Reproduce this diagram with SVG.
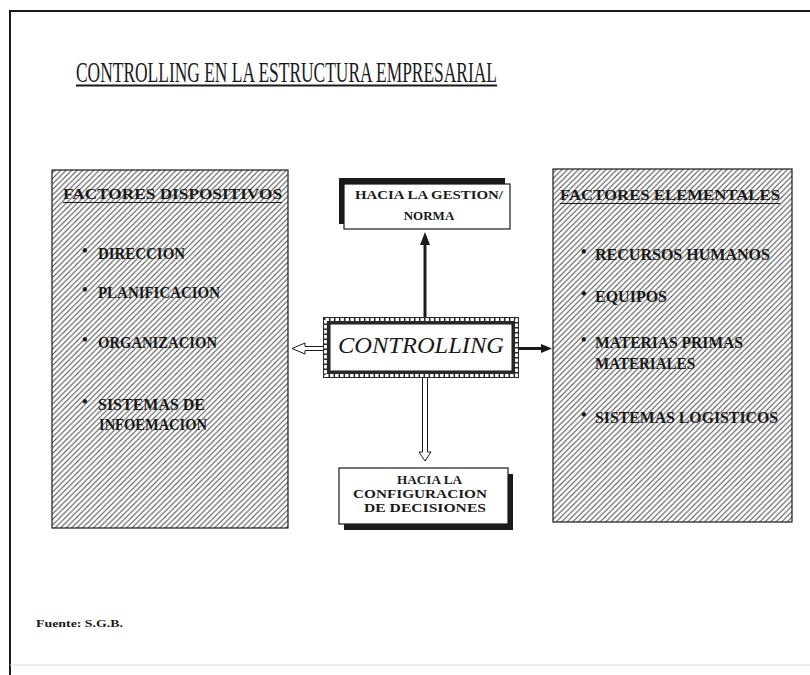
<svg xmlns="http://www.w3.org/2000/svg" width="810" height="675" viewBox="0 0 810 675">
<style>
  .serif { font-family: "Liberation Serif", "Times New Roman", serif; fill: #1a1a1a; }
  .item { font-family: "Liberation Serif", "Times New Roman", serif; font-weight: bold; font-size: 16px; fill: #1a1a1a; }
  .head { font-family: "Liberation Serif", "Times New Roman", serif; font-weight: bold; font-size: 15.5px; fill: #1a1a1a; }
  .small { font-family: "Liberation Serif", "Times New Roman", serif; font-weight: bold; fill: #1a1a1a; }
</style>
<defs>
  <pattern id="hatch" patternUnits="userSpaceOnUse" width="5.5" height="5.5">
    <path d="M-1,1 L1,-1 M0,5.5 L5.5,0 M4.5,6.5 L6.5,4.5" stroke="#4a4a4a" stroke-width="1.05" fill="none"/>
  </pattern>
</defs>
<rect width="810" height="675" fill="#ffffff"/>

<g id="frame" fill="none" stroke="#1a1a1a">
  <path d="M10,675 L10,11 L810,11" stroke-width="2"/>
  <line x1="10" y1="665" x2="810" y2="665" stroke="#dcdcdc" stroke-width="1"/>
</g>

<g id="title">
  <text class="serif" x="76" y="82" font-size="28.5" textLength="421" lengthAdjust="spacingAndGlyphs">CONTROLLING EN LA ESTRUCTURA EMPRESARIAL</text>
  <line x1="76" y1="85.5" x2="497" y2="85.5" stroke="#1a1a1a" stroke-width="2"/>
</g>

<g id="node-factores-dispositivos">
  <rect x="52" y="170" width="236" height="358" fill="url(#hatch)" stroke="#1a1a1a" stroke-width="1.2"/>
  <text class="head" x="63" y="199" textLength="219" lengthAdjust="spacingAndGlyphs">FACTORES DISPOSITIVOS</text>
  <line x1="63" y1="202.5" x2="282" y2="202.5" stroke="#1a1a1a" stroke-width="1.2"/>
  <text class="item" y="259"><tspan x="82" dy="-3">•</tspan><tspan x="98" dy="3" textLength="87" lengthAdjust="spacingAndGlyphs">DIRECCION</tspan></text>
  <text class="item" y="298"><tspan x="82" dy="-3">•</tspan><tspan x="98" dy="3" textLength="122" lengthAdjust="spacingAndGlyphs">PLANIFICACION</tspan></text>
  <text class="item" y="348"><tspan x="82" dy="-3">•</tspan><tspan x="98" dy="3" textLength="119" lengthAdjust="spacingAndGlyphs">ORGANIZACION</tspan></text>
  <text class="item" y="410"><tspan x="82" dy="-3">•</tspan><tspan x="98" dy="3" textLength="107" lengthAdjust="spacingAndGlyphs">SISTEMAS DE</tspan></text>
  <text class="item" x="99" y="430" textLength="108" lengthAdjust="spacingAndGlyphs">INFOEMACION</text>
</g>

<g id="node-factores-elementales">
  <rect x="553" y="169" width="239" height="353" fill="url(#hatch)" stroke="#1a1a1a" stroke-width="1.2"/>
  <text class="head" x="560" y="200" textLength="220" lengthAdjust="spacingAndGlyphs">FACTORES ELEMENTALES</text>
  <line x1="560" y1="203.5" x2="780" y2="203.5" stroke="#1a1a1a" stroke-width="1.2"/>
  <text class="item" y="260"><tspan x="581" dy="-3">•</tspan><tspan x="595" dy="3" textLength="175" lengthAdjust="spacingAndGlyphs">RECURSOS HUMANOS</tspan></text>
  <text class="item" y="302"><tspan x="581" dy="-3">•</tspan><tspan x="595" dy="3" textLength="72" lengthAdjust="spacingAndGlyphs">EQUIPOS</tspan></text>
  <text class="item" y="348"><tspan x="581" dy="-3">•</tspan><tspan x="595" dy="3" textLength="148" lengthAdjust="spacingAndGlyphs">MATERIAS PRIMAS</tspan></text>
  <text class="item" x="595" y="369" textLength="100" lengthAdjust="spacingAndGlyphs">MATERIALES</text>
  <text class="item" y="423"><tspan x="581" dy="-3">•</tspan><tspan x="595" dy="3" textLength="183" lengthAdjust="spacingAndGlyphs">SISTEMAS LOGISTICOS</tspan></text>
</g>

<g id="node-gestion-norma">
  <rect x="339" y="178" width="166" height="46" fill="#1a1a1a"/>
  <rect x="344" y="184" width="166" height="45" fill="#ffffff" stroke="#1a1a1a" stroke-width="1.2"/>
  <text class="small" x="355" y="199" font-size="13" textLength="148" lengthAdjust="spacingAndGlyphs">HACIA LA GESTION/</text>
  <text class="small" x="429" y="220" font-size="13" text-anchor="middle">NORMA</text>
</g>

<g id="node-controlling">
  <rect x="323" y="317" width="196" height="61" fill="#2a2a2a"/>
  <rect x="325.5" y="319.5" width="191" height="56" fill="none" stroke="#ffffff" stroke-width="2.8" stroke-dasharray="3.4 1.6"/>
  <rect x="330" y="324" width="182" height="47" fill="#ffffff" stroke="#1a1a1a" stroke-width="1"/>
  <text class="serif" x="338" y="353" font-size="23" font-style="italic" textLength="166" lengthAdjust="spacingAndGlyphs">CONTROLLING</text>
</g>

<g id="node-configuracion">
  <rect x="344" y="474" width="169" height="56" fill="#1a1a1a"/>
  <rect x="339" y="468" width="169" height="56" fill="#ffffff" stroke="#1a1a1a" stroke-width="1.2"/>
  <text class="small" x="397" y="484" font-size="13" textLength="65" lengthAdjust="spacingAndGlyphs">HACIA LA</text>
  <text class="small" x="353" y="498" font-size="13" textLength="134" lengthAdjust="spacingAndGlyphs">CONFIGURACION</text>
  <text class="small" x="364" y="512" font-size="13" textLength="122" lengthAdjust="spacingAndGlyphs">DE DECISIONES</text>
</g>

<g id="connectors">
  <line x1="425" y1="317" x2="425" y2="243" stroke="#1a1a1a" stroke-width="3"/>
  <polygon points="420,245 430,245 425,232" fill="#1a1a1a"/>
  <line x1="519" y1="348.5" x2="542" y2="348.5" stroke="#1a1a1a" stroke-width="3"/>
  <polygon points="541,344 541,353 552,348.5" fill="#1a1a1a"/>
  <path d="M323,346.5 L305,346.5 L305,343 L292,348.5 L305,354 L305,350.5 L323,350.5" fill="#ffffff" stroke="#1a1a1a" stroke-width="1"/>
  <path d="M422.5,378 L422.5,452 L419,452 L425,461 L431,452 L427.5,452 L427.5,378" fill="#ffffff" stroke="#1a1a1a" stroke-width="1"/>
</g>

<g id="source">
  <text class="small" x="36" y="627" font-size="11" textLength="87" lengthAdjust="spacingAndGlyphs">Fuente: S.G.B.</text>
</g>
</svg>
